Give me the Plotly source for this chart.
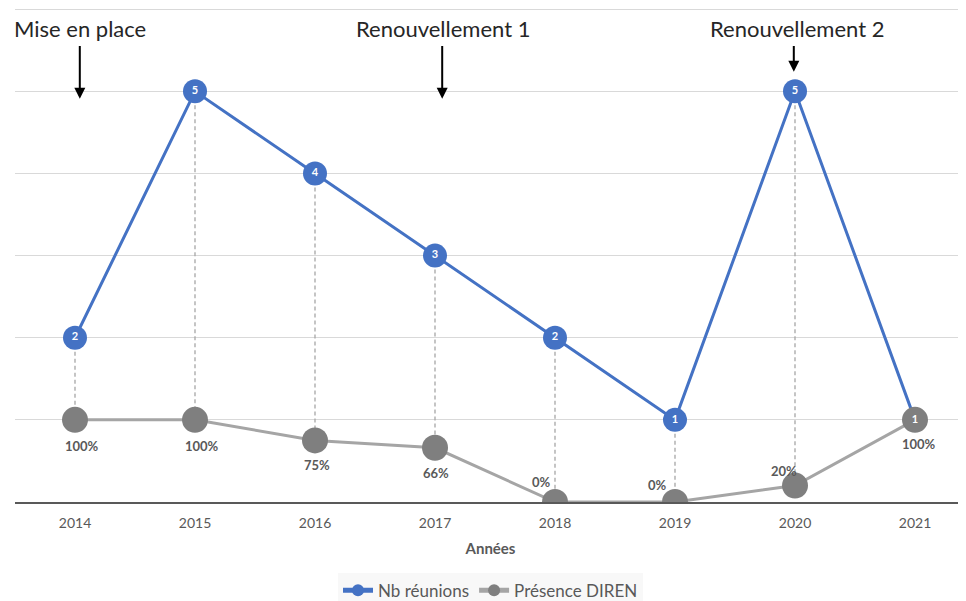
import plotly.graph_objects as go

years = ["2014", "2015", "2016", "2017", "2018", "2019", "2020", "2021"]
nb_reunions = [2, 5, 4, 3, 2, 1, 5, 1]
presence_diren = [1.0, 1.0, 0.75, 0.66, 0.0, 0.0, 0.2, 1.0]
presence_labels = ["100%", "100%", "75%", "66%", "0%", "0%", "20%", "100%"]

events = ["Mise en place", "Renouvellement 1", "Renouvellement 2"]
event_pos = [0.04, 3.06, 5.99]

BLUE = "#4472C4"
GRAY_M = "#7F7F7F"
GRAY_L = "#A5A5A5"
TXT = "#595959"
FONT = "Lato"

# high-low lines (from highest to lowest value in each category)
hl_x, hl_y = [], []
for i, y in enumerate(years):
    hi = max(nb_reunions[i], presence_diren[i])
    lo = min(nb_reunions[i], presence_diren[i])
    hl_x += [y, y, None]
    hl_y += [hi, lo, None]

fig = go.Figure()
fig.add_trace(go.Scatter(x=hl_x, y=hl_y, mode="lines", showlegend=False, hoverinfo="skip",
                         line=dict(color="#A6A6A6", width=1.3, dash="4px,3px")))
fig.add_trace(go.Scatter(x=years, y=nb_reunions, mode="lines+markers", name="Nb réunions",
                         line=dict(color=BLUE, width=3),
                         marker=dict(color=BLUE, size=24)))
fig.add_trace(go.Scatter(x=years, y=presence_diren, mode="lines+markers", name="Présence DIREN",
                         line=dict(color=GRAY_L, width=3),
                         marker=dict(color=GRAY_M, size=26)))
fig.add_trace(go.Scatter(x=years, y=nb_reunions, mode="text", showlegend=False, hoverinfo="skip",
                         text=[f"<b>{v}</b>" for v in nb_reunions],
                         textposition="middle center",
                         textfont=dict(color="white", size=11, family=FONT)))

label_shift = [(7, -26), (7, -26), (2, -25), (1, -25), (-14, 20), (-18, 17), (-11, 15), (4, -24)]
annotations = []
for i in range(len(years)):
    dx, dy = label_shift[i]
    annotations.append(dict(x=i, y=presence_diren[i], xref="x", yref="y", showarrow=False,
                            text=f"<b>{presence_labels[i]}</b>", xshift=dx, yshift=dy,
                            font=dict(size=13, color=TXT, family=FONT)))

text_anchor = [("left", -0.5, -3), ("center", 3.07, 0), ("center", 6.02, 0)]
arrow_tips = [4.91, 4.91, 5.24]
for i, ev in enumerate(events):
    anchor, xpos, xs = text_anchor[i]
    annotations.append(dict(x=xpos, y=5.76, xref="x", yref="y", showarrow=False, text=ev,
                            xanchor=anchor, yanchor="middle", xshift=xs,
                            font=dict(size=22, color="#262626", family=FONT)))
    annotations.append(dict(x=event_pos[i], y=arrow_tips[i], ax=event_pos[i], ay=5.57,
                            xref="x", yref="y", axref="x", ayref="y", text="",
                            showarrow=True, arrowhead=2, arrowsize=1.1, arrowwidth=2,
                            arrowcolor="black"))

fig.update_layout(
    width=958, height=601,
    margin=dict(l=7, r=0, t=0, b=107),
    plot_bgcolor="white", paper_bgcolor="white",
    font=dict(family=FONT, color=TXT),
    xaxis=dict(type="category", range=[-0.5, 7.425], showgrid=False, showline=True,
               linecolor="#595959", linewidth=2, ticks="", ticklabelstandoff=7,
               tickfont=dict(size=14, color=TXT), automargin=False,
               title=dict(text="<b>Années</b>", font=dict(size=15, color=TXT), standoff=14)),
    yaxis=dict(range=[0, 6.015], dtick=1, showticklabels=False, gridcolor="#D9D9D9",
               gridwidth=1.3, zeroline=False, fixedrange=True, automargin=False),
    legend=dict(orientation="h", x=0.5, xanchor="center", y=-0.143, yanchor="top",
                bgcolor="#F8F8F8", font=dict(size=17, color=TXT), itemwidth=30,
                itemsizing="constant", tracegroupgap=0),
    annotations=annotations,
    showlegend=True,
)

fig.write_html("out.html")
